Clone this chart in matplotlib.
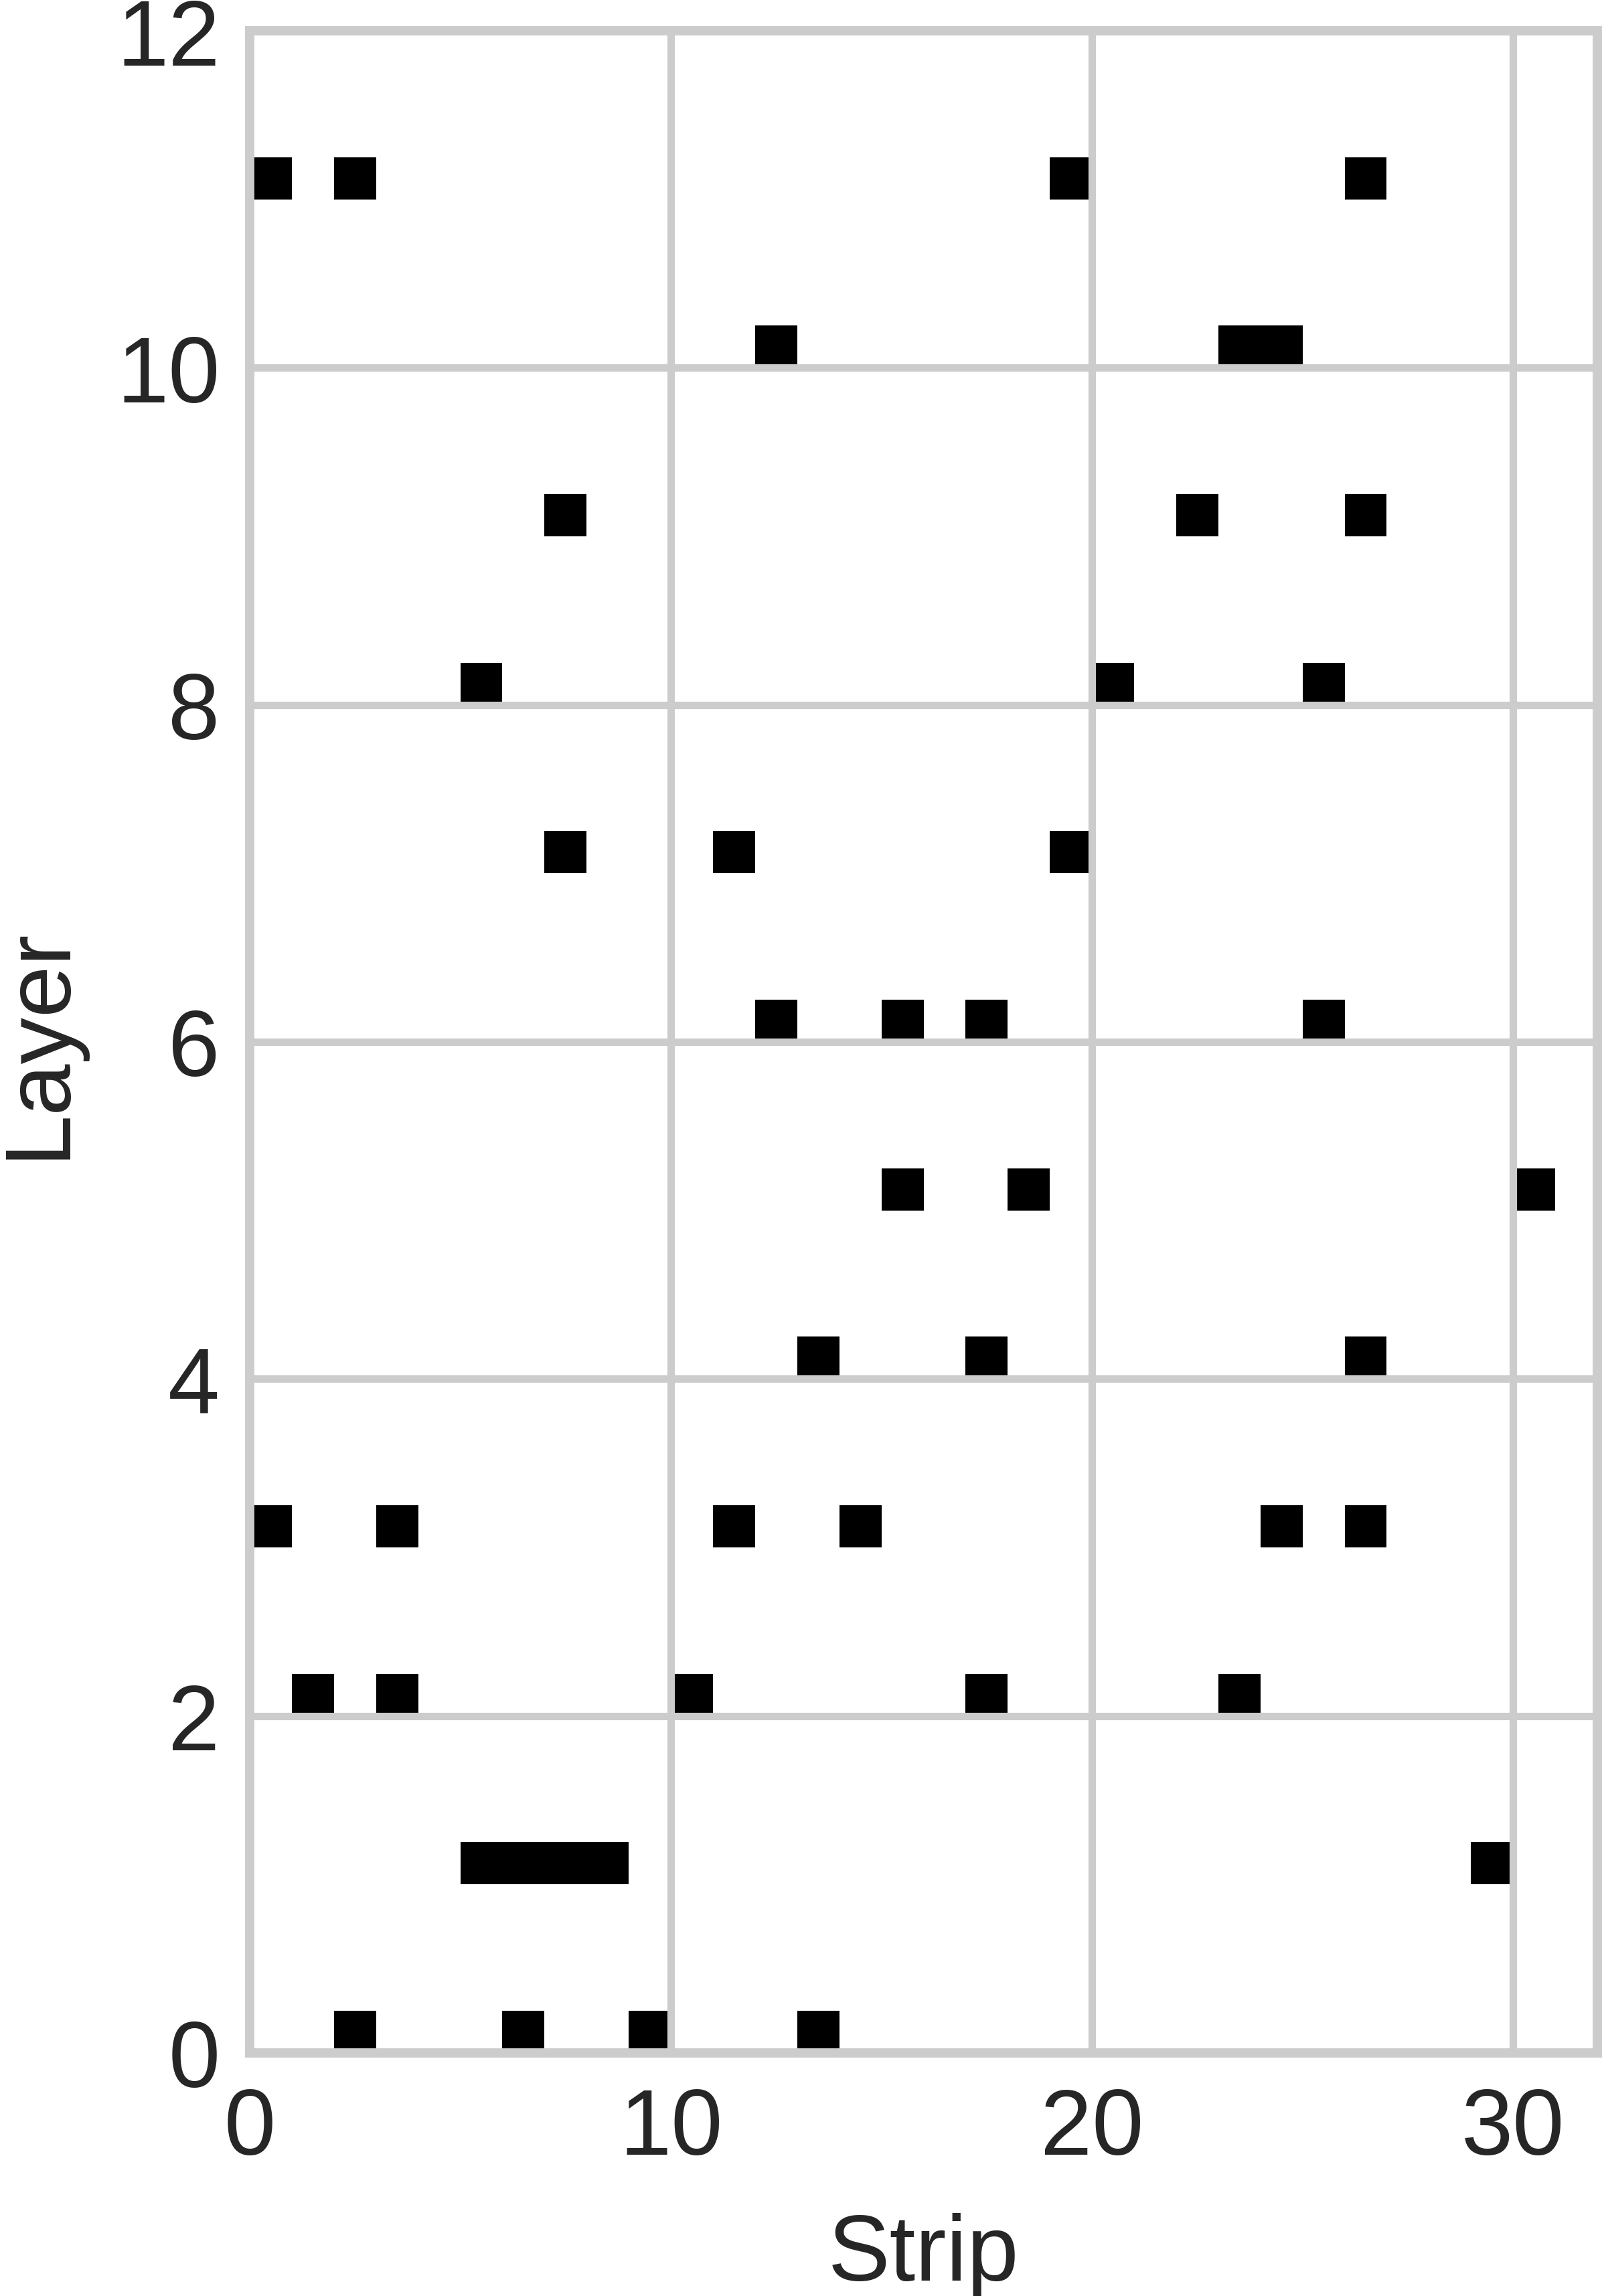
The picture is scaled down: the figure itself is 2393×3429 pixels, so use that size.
import matplotlib
matplotlib.use("Agg")
import matplotlib.pyplot as plt

# hits: one entry per black cell (layer, strip)
hit_layer = [0, 0, 0, 0,
             1, 1, 1, 1, 1,
             2, 2, 2, 2, 2,
             3, 3, 3, 3, 3, 3,
             4, 4, 4,
             5, 5, 5,
             6, 6, 6, 6,
             7, 7, 7,
             8, 8, 8,
             9, 9, 9,
             10, 10, 10,
             11, 11, 11, 11]
hit_strip = [2, 6, 9, 13,
             5, 6, 7, 8, 29,
             1, 3, 10, 17, 23,
             0, 3, 11, 14, 24, 26,
             13, 17, 26,
             15, 18, 30,
             12, 15, 17, 25,
             7, 11, 19,
             5, 20, 25,
             7, 22, 26,
             12, 23, 24,
             0, 2, 19, 26]

x_ticks = [0, 10, 20, 30]
y_ticks = [0, 2, 4, 6, 8, 10, 12]

plt.rcParams["font.family"] = ["Liberation Sans", "DejaVu Sans"]
text_color = "#262626"
grid_color = "#cccccc"

fig = plt.figure(figsize=(2393 / 400, 3430 / 400), dpi=400)
ax = fig.add_axes([373 / 2393, (3430 - 3067) / 3430,
                   (2386 - 373) / 2393, (3067 - 47) / 3430])

# each hit is a cell one strip wide and a quarter layer tall
ax.bar(hit_strip, 0.25, width=1, bottom=hit_layer, align="edge",
       color="black", linewidth=0, zorder=0)

ax.set_xlim(0, 32)
ax.set_ylim(0, 12)
ax.set_xticks(x_ticks)
ax.set_yticks(y_ticks)

ax.set_axisbelow(True)
ax.grid(True, color=grid_color, linewidth=2)
for spine in ax.spines.values():
    spine.set_color(grid_color)
    spine.set_linewidth(2.5)

ax.tick_params(length=0, labelsize=25, labelcolor=text_color)
ax.tick_params(axis="x", pad=9)
ax.tick_params(axis="y", pad=8)
ax.set_xlabel("Strip", fontsize=25, color=text_color, labelpad=10.5)
ax.set_ylabel("Layer", fontsize=25, color=text_color, labelpad=9)

fig.savefig("out.png", dpi=400)
